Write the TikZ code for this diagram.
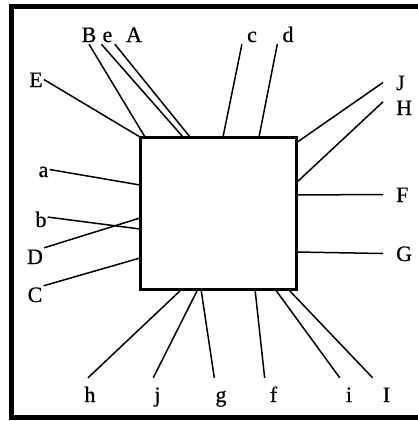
\documentclass[tikz,border=0pt]{standalone}
\usepackage{fontspec}
\setmainfont{Liberation Serif}
\newfontfamily\labfont[FakeBold=0.6]{Liberation Serif}
\usetikzlibrary{positioning}
\tikzset{
  lab/.style={font=\labfont\fontsize{22}{22}\selectfont,inner sep=1pt,text height=15pt,text depth=0pt,anchor=base},
  tlab/.style={lab,inner ysep=2pt},
  blab/.style={lab,inner ysep=9pt},
  rlab/.style={lab,anchor=base west,inner xsep=13pt},
  lead/.style={line width=1.5pt},
}
\begin{document}
\begin{tikzpicture}[x=1pt,y=-1pt]
\useasboundingbox (0,0) rectangle (418,421);
% frame
\draw[line width=5pt] (418,6) -- (11.5,6) -- (11.5,417) -- (418,417);
% package body
\node[draw,line width=3pt,minimum width=156pt,minimum height=152pt,inner sep=0pt] (sq) at (218,213) {};
% points on the body
\coordinate (pE) at (140,137);
\coordinate (pB) at (145,137);
\coordinate (pe) at (183,137);
\coordinate (pA) at (190,137);
\coordinate (pc) at (223,137);
\coordinate (pd) at (259,137);
\coordinate (pJ) at (296,143);
\coordinate (pH) at (296,183);
\coordinate (pF) at (296,195);
\coordinate (pG) at (296,252);
\coordinate (pI) at (288,289);
\coordinate (pi) at (275,289);
\coordinate (pf) at (255,289);
\coordinate (pg) at (201,289);
\coordinate (pj) at (198,289);
\coordinate (ph) at (182,289);
\coordinate (pC) at (140,258);
\coordinate (pD) at (140,218);
\coordinate (pb) at (140,229);
\coordinate (pa) at (140,185);
% labels
\foreach \n/\x in {B/89,e/107.5,A/134,c/252,d/288}
  \node[tlab] (l\n) at (\x,42) {\n};
\foreach \n/\y in {J/90,H/115,F/202,G/261}
  \node[rlab] (l\n) at (383,\y) {\n};
\foreach \n/\x/\y in {E/36/87,a/43.5/177,b/41/227,D/35/264,C/35/302}
  \node[lab] (l\n) at (\x,\y) {\n};
\foreach \n/\x in {h/90,j/157.5,g/221,f/273.5,i/349,I/386.5}
  \node[blab] (l\n) at (\x,402) {\n};
% leads
\foreach \n/\a/\dx in {E/east/0,B/south/0,e/south west/0,A/south west/-10,
    c/south west/-4,d/south west/-4,J/west/0,H/165/0,F/west/0,G/west/0,
    I/north west/-9,i/north west/-5,f/north west/-4,g/north west/0,
    j/north west/0,h/north/-2,C/north east/0,D/north east/0,b/20/0,a/east/0}
  \draw[lead] ([xshift=\dx pt]l\n.\a) -- (p\n);
\end{tikzpicture}
\end{document}
